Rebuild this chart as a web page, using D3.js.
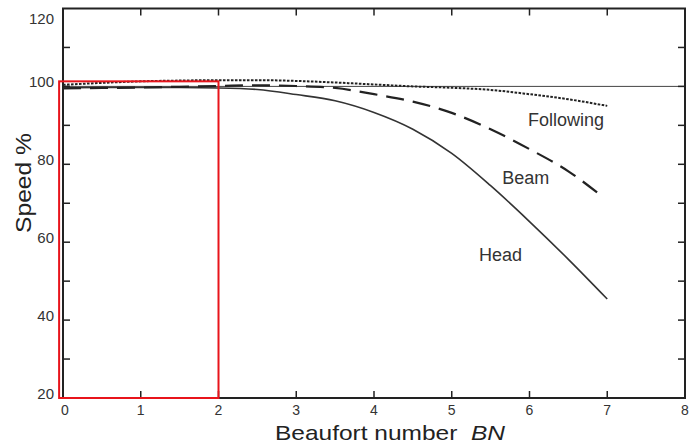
<!DOCTYPE html>
<html>
<head>
<meta charset="utf-8">
<script src="https://cdn.jsdelivr.net/npm/d3@7/dist/d3.min.js"></script>
<style>
	html, body { margin: 0; padding: 0; background: #fff; }
	svg { display: block; font-family: 'Liberation Sans', Arial, sans-serif; }
	.frame { fill: none; stroke: #222; stroke-width: 2; }
	.tick-mark { stroke: #222; stroke-width: 1.5; }
	.tick-label { fill: #333; }
	.ref-line { stroke: #444; stroke-width: 1; }
	.curve { fill: none; stroke-linecap: butt; }
	.highlight { fill: none; stroke: #e8141b; stroke-width: 2; }
</style>
</head>
<body>
<div id="chart"></div>
<script>
// x positions of the readings (Beaufort number)
var bnSteps = [0, 0.5, 1, 1.5, 2, 2.5, 3, 3.5, 4, 4.5, 5, 5.5, 6, 6.5, 7];
var bnStepsBeam = [0, 0.5, 1, 1.5, 2, 2.5, 3, 3.5, 4, 4.5, 5, 5.5, 6, 6.5, 6.95];

// speed % per sea direction
var headSpeed = [99.6, 99.7, 99.7, 99.7, 99.6, 99.2, 97.9, 96.3, 93.3, 89.0, 82.8, 74.5, 65.3, 55.6, 45.4];
var beamSpeed = [99.5, 99.6, 99.7, 99.9, 100.1, 100.3, 100.1, 99.6, 98.0, 96.1, 93.2, 89.0, 83.9, 78.2, 71.5];
var followingSpeed = [100.4, 100.9, 101.3, 101.5, 101.6, 101.6, 101.4, 101.0, 100.5, 100.0, 99.65, 99.1, 98.0, 96.7, 95.0];

var seriesNames = ['Head', 'Beam', 'Following'];
// label anchor (BN, speed %) for each series name
var labelBN = [5.35, 5.65, 5.98];
var labelSpeed = [55.1, 74.9, 89.9];

var xTicks = [0, 1, 2, 3, 4, 5, 6, 7, 8];
var yTicks = [20, 40, 60, 80, 100, 120];
var yMinorTicks = [20, 30, 40, 50, 60, 70, 80, 90, 100, 110, 120];
var refSpeed = 100;

// red highlight box (BN range, speed range)
var highlightBN = [-0.05, 2];
var highlightSpeed = [20, 101.3];

(function() {
	var fullWidth = 689;
	var fullHeight = 444;
	var margin = { top: 8.5, right: 4, bottom: 46, left: 63 };
	var width = fullWidth - margin.left - margin.right;
	var height = fullHeight - margin.top - margin.bottom;
	var tickLen = 7;

	var svg = d3.select('#chart')
		.append('svg')
		.attr('width', fullWidth)
		.attr('height', fullHeight);

	var x = d3.scaleLinear().domain([0, 8]).range([0, width]);
	var y = d3.scaleLinear().domain([20, 120]).range([height, 0]);

	var g = svg.append('g')
		.attr('transform', 'translate(' + margin.left + ',' + margin.top + ')');

	//reference line at 100 %
	g.append('line')
		.attr('class', 'ref-line')
		.attr('x1', 0)
		.attr('x2', width)
		.attr('y1', y(refSpeed))
		.attr('y2', y(refSpeed));

	var line = d3.line()
		.curve(d3.curveMonotoneX)
		.x(function(d) { return x(d[0]); })
		.y(function(d) { return y(d[1]); });

	var series = [
		{ xs: bnSteps, ys: headSpeed, width: 1.6, dash: null, color: '#333' },
		{ xs: bnStepsBeam, ys: beamSpeed, width: 2.2, dash: '18,9', color: '#222' },
		{ xs: bnSteps, ys: followingSpeed, width: 2, dash: '2.6,1.4', color: '#222' }
	];

	series.forEach(function(s, i) {
		var pts = s.xs.map(function(v, j) { return [v, s.ys[j]]; });
		g.append('path')
			.datum(pts)
			.attr('class', 'curve')
			.attr('stroke', s.color)
			.attr('stroke-width', s.width)
			.attr('stroke-dasharray', s.dash)
			.attr('d', line);

		g.append('text')
			.attr('x', x(labelBN[i]))
			.attr('y', y(labelSpeed[i]))
			.attr('fill', '#333')
			.style('font-size', '18px')
			.text(seriesNames[i]);
	});

	//frame with inward ticks on all sides
	g.append('rect')
		.attr('class', 'frame')
		.attr('x', 0)
		.attr('y', 0)
		.attr('width', width)
		.attr('height', height);

	xTicks.slice(1, -1).forEach(function(t) {
		g.append('line').attr('class', 'tick-mark')
			.attr('x1', x(t)).attr('x2', x(t))
			.attr('y1', height).attr('y2', height - tickLen);
		g.append('line').attr('class', 'tick-mark')
			.attr('x1', x(t)).attr('x2', x(t))
			.attr('y1', 0).attr('y2', tickLen);
	});

	yMinorTicks.slice(1, -1).forEach(function(t) {
		g.append('line').attr('class', 'tick-mark')
			.attr('x1', 0).attr('x2', tickLen)
			.attr('y1', y(t)).attr('y2', y(t));
		g.append('line').attr('class', 'tick-mark')
			.attr('x1', width).attr('x2', width - tickLen)
			.attr('y1', y(t)).attr('y2', y(t));
	});

	g.selectAll('.x-label')
		.data(xTicks)
		.enter().append('text')
		.attr('class', 'tick-label x-label')
		.attr('x', function(d) { return x(d) + (d === 0 ? 2 : 0); })
		.attr('y', height + 17)
		.attr('text-anchor', 'middle')
		.style('font-size', '14px')
		.text(function(d) { return d; });

	g.selectAll('.y-label')
		.data(yTicks)
		.enter().append('text')
		.attr('class', 'tick-label y-label')
		.attr('x', -9)
		.attr('y', function(d) { return Math.max(y(d) + 1, 15); })
		.attr('text-anchor', 'end')
		.style('font-size', '15px')
		.text(function(d) { return d; });

	//highlight box
	g.append('rect')
		.attr('class', 'highlight')
		.attr('x', x(highlightBN[0]))
		.attr('y', y(highlightSpeed[1]))
		.attr('width', x(highlightBN[1]) - x(highlightBN[0]))
		.attr('height', y(highlightSpeed[0]) - y(highlightSpeed[1]));

	//axis titles
	var xTitle = svg.append('text')
		.attr('x', 275)
		.attr('y', 440)
		.attr('fill', '#222')
		.attr('textLength', 230)
		.attr('lengthAdjust', 'spacingAndGlyphs')
		.style('font-size', '21px');
	xTitle.append('tspan').text('Beaufort number\u00a0\u00a0');
	xTitle.append('tspan').style('font-style', 'italic').text('BN');

	svg.append('text')
		.attr('transform', 'translate(31,183) rotate(-90)')
		.attr('text-anchor', 'middle')
		.attr('fill', '#222')
		.attr('textLength', 100)
		.attr('lengthAdjust', 'spacingAndGlyphs')
		.style('font-size', '22px')
		.text('Speed %');
})();
</script>
</body>
</html>
